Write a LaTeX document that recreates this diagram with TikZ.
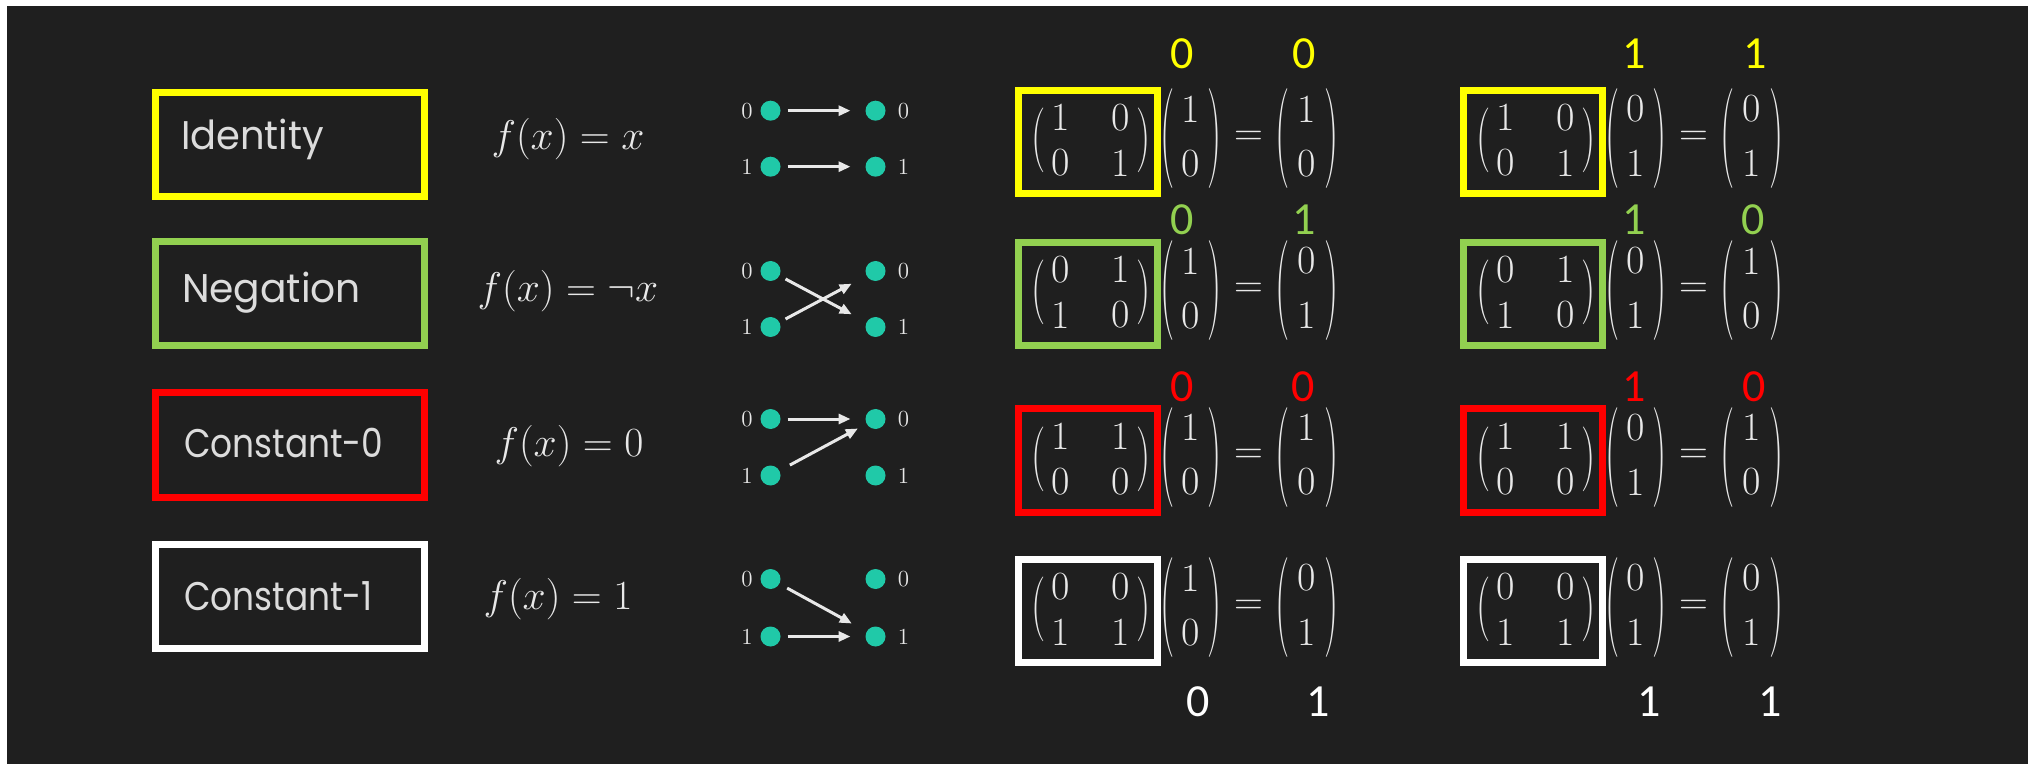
\documentclass[tikz,border=0pt]{standalone}
\usepackage{fontspec}
\usepackage{graphicx}
\usetikzlibrary{arrows.meta}
\newfontfamily\labelfont{Poppins}
\newfontfamily\bitfont{Carlito}

\definecolor{canvas}{HTML}{1F1F1F}
\definecolor{ink}{HTML}{E8E8E8}
\definecolor{nameink}{HTML}{DCDCDC}
\definecolor{dotcol}{HTML}{20C9A8}
\definecolor{bityellow}{HTML}{FFFF00}
\definecolor{bitgreen}{HTML}{92D050}
\definecolor{bitred}{HTML}{FF0000}

% vertically stretched delimiter
\newcommand\tparen[2]{\scalebox{1}[#1]{#2}}
% horizontally narrowed word
\newcommand\narrow[2]{\scalebox{#1}[1]{#2}}

\tikzset{
  every node/.style={inner sep=0pt, outer sep=0pt},
  namebox/.style={draw=#1, line width=3.5pt, minimum width=134.5pt, minimum height=52pt},
  namelabel/.style={anchor=base west, text=nameink, font=\labelfont\fontsize{20}{24}\selectfont},
  formula/.style={anchor=base, text=ink, font=\fontsize{20.74}{25}\selectfont},
  qdot/.style={circle, fill=dotcol, minimum size=10pt},
  bitlabel/.style={text=ink, font=\fontsize{11.5}{14}\selectfont},
  mapsto/.style={draw=ink, line width=1.5pt, -{Triangle[length=6pt,width=5pt]},
                 shorten <=3.5pt, shorten >=7.5pt},
  gatebox/.style={draw=#1, line width=3.5pt, minimum width=69.5pt, minimum height=51.5pt},
  qentry/.style={text=ink, font=\fontsize{20}{24}\selectfont},
  qbit/.style={text=#1, font=\bitfont\fontsize{23}{28}\selectfont},
}

% boxed 2x2 matrix: name, cx, cy, colour, a, b, c, d
\newcommand\matbox[8]{%
  \node[gatebox=#4] (#1) at (#2,#3) {};
  \node[qentry] (#1-lp) at ({#2-48.5},{#3-1.5}) {\tparen{1.62}{(}};
  \node[qentry] (#1-rp) at ({#2+56.5},{#3-1.5}) {\tparen{1.62}{)}};
  \node[qentry] (#1-a) at ({#2-27},{#3-24.5}) {#5};
  \node[qentry] (#1-b) at ({#2+33.5},{#3-24.5}) {#6};
  \node[qentry] (#1-c) at ({#2-27},{#3+21}) {#7};
  \node[qentry] (#1-d) at ({#2+33.5},{#3+21}) {#8};
}
% input vector, equals sign and output vector: name, cx, cy, v1, v2, r1, r2
\newcommand\vecprod[7]{%
  \node[qentry] (#1-vl) at ({#2+80.5},{#3-3}) {\tparen{2.5}{(}};
  \node[qentry] (#1-vr) at ({#2+127},{#3-3}) {\tparen{2.5}{)}};
  \node[qentry] (#1-v1) at ({#2+103},{#3-33}) {#4};
  \node[qentry] (#1-v2) at ({#2+103},{#3+21.5}) {#5};
  \node[qentry] (#1-eq) at ({#2+161},{#3-4}) {=};
  \node[qentry] (#1-rl) at ({#2+195.5},{#3-3}) {\tparen{2.5}{(}};
  \node[qentry] (#1-rr) at ({#2+244.5},{#3-3}) {\tparen{2.5}{)}};
  \node[qentry] (#1-r1) at ({#2+219.5},{#3-33}) {#6};
  \node[qentry] (#1-r2) at ({#2+219.5},{#3+21.5}) {#7};
}
% two-column bit mapping: name, top row y, bottom row y
\newcommand\mapping[3]{%
  \node[qdot] (#1-a0) at (770.5,#2) {};
  \node[qdot] (#1-a1) at (770.5,#3) {};
  \node[qdot] (#1-b0) at (875.5,#2) {};
  \node[qdot] (#1-b1) at (875.5,#3) {};
  \node[bitlabel] (#1-la0) at (747,#2) {0};
  \node[bitlabel] (#1-la1) at (747,#3) {1};
  \node[bitlabel] (#1-lb0) at (903.5,#2) {0};
  \node[bitlabel] (#1-lb1) at (903.5,#3) {1};
}

\begin{document}
\begin{tikzpicture}[x=0.5pt, y=-0.5pt]
  \useasboundingbox (0,0) rectangle (2028,764);
  \fill[white] (0,0) rectangle (2028,764);
  \fill[canvas] (7,6) rectangle (2028,764);

  % function names
  \node[namebox=bityellow] (idbox) at (290,144.5) {};
  \node[namebox=bitgreen]  (negbox) at (290,294) {};
  \node[namebox=bitred]    (c0box) at (290,445) {};
  \node[namebox=white]     (c1box) at (290,596.5) {};
  \node[namelabel] (idname)  at (181,150) {\narrow{0.96}{Identity}};
  \node[namelabel] (negname) at (182,303) {\narrow{0.98}{Negation}};
  \node[namelabel] (c0name)  at (184,457) {\narrow{0.86}{Constant-0}};
  \node[namelabel] (c1name)  at (184,610) {\narrow{0.86}{Constant-1}};

  % definitions
  \node[formula] (idf)  at (568,150) {$f(x) = x$};
  \node[formula] (negf) at (568,302) {$f(x) = \neg x$};
  \node[formula] (c0f)  at (569,456) {$f(x) = 0$};
  \node[formula] (c1f)  at (558,609) {$f(x) = 1$};

  % mappings
  \mapping{id}{110.7}{166.7}
  \draw[mapsto] (id-a0) -- (id-b0);
  \draw[mapsto] (id-a1) -- (id-b1);
  \mapping{neg}{271}{327}
  \draw[mapsto, shorten >=8.5pt] (neg-a0) -- (neg-b1);
  \draw[mapsto, shorten >=8.5pt] (neg-a1) -- (neg-b0);
  \mapping{cz}{419}{475.5}
  \draw[mapsto] (cz-a0) -- (cz-b0);
  \draw[mapsto, shorten <=6pt, shorten >=5pt] (cz-a1) -- (cz-b0);
  \mapping{co}{579}{636.5}
  \draw[mapsto, shorten <=4.5pt, shorten >=8.5pt] (co-a0) -- (co-b1);
  \draw[mapsto] (co-a1) -- (co-b1);

  % matrices acting on |0>
  \matbox{mid0}{1087.5}{142}{bityellow}{1}{0}{0}{1}
  \vecprod{pid0}{1087.5}{142}{1}{0}{1}{0}
  \matbox{mneg0}{1087.5}{294}{bitgreen}{0}{1}{1}{0}
  \vecprod{pneg0}{1087.5}{294}{1}{0}{0}{1}
  \matbox{mcz0}{1087.5}{460.5}{bitred}{1}{1}{0}{0}
  \vecprod{pcz0}{1087.5}{460.5}{1}{0}{1}{0}
  \matbox{mco0}{1087.5}{611}{white}{0}{0}{1}{1}
  \vecprod{pco0}{1087.5}{611}{1}{0}{0}{1}

  % matrices acting on |1>
  \matbox{mid1}{1532.5}{142}{bityellow}{1}{0}{0}{1}
  \vecprod{pid1}{1532.5}{142}{0}{1}{0}{1}
  \matbox{mneg1}{1532.5}{294}{bitgreen}{0}{1}{1}{0}
  \vecprod{pneg1}{1532.5}{294}{0}{1}{1}{0}
  \matbox{mcz1}{1532.5}{460.5}{bitred}{1}{1}{0}{0}
  \vecprod{pcz1}{1532.5}{460.5}{0}{1}{1}{0}
  \matbox{mco1}{1532.5}{611}{white}{0}{0}{1}{1}
  \vecprod{pco1}{1532.5}{611}{0}{1}{0}{1}

  % input / output bits
  \node[qbit=bityellow] (yb1) at (1182,54) {0};
  \node[qbit=bityellow] (yb2) at (1304,54) {0};
  \node[qbit=bityellow] (yb3) at (1634.5,54) {1};
  \node[qbit=bityellow] (yb4) at (1755,54) {1};
  \node[qbit=bitgreen] (gb1) at (1182,220) {0};
  \node[qbit=bitgreen] (gb2) at (1304,220) {1};
  \node[qbit=bitgreen] (gb3) at (1634.5,220) {1};
  \node[qbit=bitgreen] (gb4) at (1753.5,220) {0};
  \node[qbit=bitred] (rb1) at (1182.5,387) {0};
  \node[qbit=bitred] (rb2) at (1303.5,387) {0};
  \node[qbit=bitred] (rb3) at (1634.5,387) {1};
  \node[qbit=bitred] (rb4) at (1754,387) {0};
  \node[qbit=white] (wb1) at (1198.5,702) {0};
  \node[qbit=white] (wb2) at (1318,702) {1};
  \node[qbit=white] (wb3) at (1649,702) {1};
  \node[qbit=white] (wb4) at (1770,702) {1};
\end{tikzpicture}
\end{document}
